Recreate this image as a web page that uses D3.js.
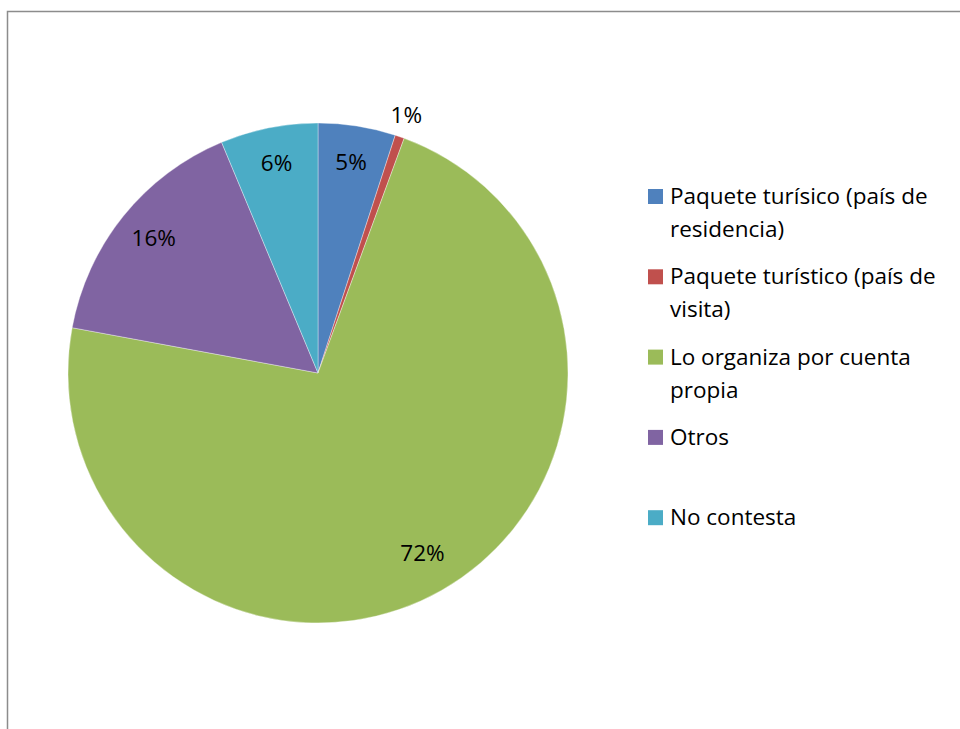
<!DOCTYPE html>
<html><head><meta charset="utf-8">
<script src="https://cdn.jsdelivr.net/npm/d3@7"></script>
<style>body{margin:0;background:#fff}svg{display:block}text{font-family:"Open Sans",Lato,sans-serif}</style>
</head><body>
<script>
const categories = ["Paquete turísico (país de residencia)","Paquete turístico (país de visita)","Lo organiza por cuenta propia","Otros","No contesta"];
const values = [5.0, 0.6, 72.3, 15.8, 6.3];
const labels = ["5%","1%","72%","16%","6%"];
const colors = ["#4F81BD","#C0504D","#9BBB59","#8064A2","#4BACC6"];

const W=960,H=729;
const svg=d3.select("body").append("svg").attr("width",W).attr("height",H);
svg.append("rect").attr("x",7.5).attr("y",11.5).attr("width",W).attr("height",H).attr("fill","#fff").attr("stroke","#8c8c8c").attr("stroke-width",1.5);

const cx=318,cy=373,R=250;
const g=svg.append("g").attr("transform",`translate(${cx},${cy})`);
const pie=d3.pie().sort(null).value(d=>d);
const arcs=pie(values);
const arc=d3.arc().innerRadius(0).outerRadius(R);
g.selectAll("path").data(arcs).join("path").attr("d",arc).attr("fill",(d,i)=>colors[i]).attr("stroke","#fff").attr("stroke-width",0.6).attr("stroke-opacity",0.6);
const inArc=d3.arc().innerRadius(211).outerRadius(211);
const outArc=d3.arc().innerRadius(270).outerRadius(270);
g.selectAll("text.lbl").data(arcs).join("text").attr("class","lbl")
 .attr("transform",(d,i)=>`translate(${(values[i]<2?outArc:inArc).centroid(d)})`)
 .attr("text-anchor","middle").attr("dy","0.22em").attr("font-size",22.5).attr("fill","#000")
 .text((d,i)=>labels[i]);

const lg=svg.append("g");
const lx=648, by0=204, step=80.3, lineH=33, maxW=285;
categories.forEach((c,i)=>{
  const y=by0+i*step;
  lg.append("rect").attr("x",lx).attr("y",y-15).attr("width",15).attr("height",15).attr("fill",colors[i]);
  const t=lg.append("text").attr("x",lx+22).attr("y",y).attr("font-size",22.5).attr("fill","#000");
  const words=c.split(" "); let line=[];
  let ts=t.append("tspan").attr("x",lx+22).attr("dy",0);
  words.forEach(w=>{
    line.push(w); ts.text(line.join(" "));
    if(ts.node().getComputedTextLength()>maxW && line.length>1){
      line.pop(); ts.text(line.join(" ")); line=[w];
      ts=t.append("tspan").attr("x",lx+22).attr("dy",lineH).text(w);
    }
  });
});
</script>
</body></html>
